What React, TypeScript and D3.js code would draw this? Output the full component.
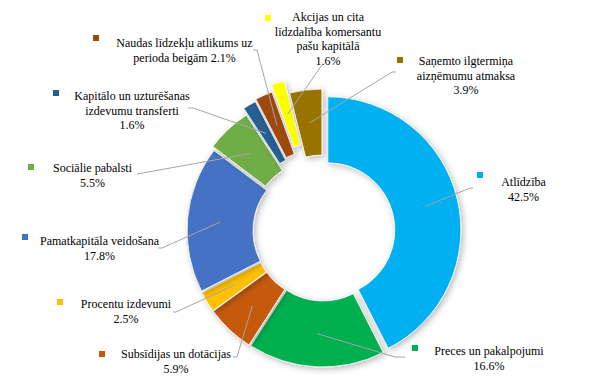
import React from "react";
import * as d3 from "d3";

const categories = [
  "Atlīdzība",
  "Preces un pakalpojumi",
  "Subsīdijas un dotācijas",
  "Procentu izdevumi",
  "Pamatkapitāla veidošana",
  "Sociālie pabalsti",
  "Kapitālo un uzturēšanas izdevumu transferti",
  "Naudas līdzekļu atlikums uz perioda beigām",
  "Akcijas un cita līdzdalība komersantu pašu kapitālā",
  "Saņemto ilgtermiņa aizņēmumu atmaksa",
];
const values = [42.5, 16.6, 5.9, 2.5, 17.8, 5.5, 1.6, 2.1, 1.6, 3.9];
const labelLines = [
  ["Atlīdzība", "42.5%"],
  ["Preces un pakalpojumi", "16.6%"],
  ["Subsīdijas un dotācijas", "5.9%"],
  ["Procentu izdevumi", "2.5%"],
  ["Pamatkapitāla veidošana", "17.8%"],
  ["Sociālie pabalsti", "5.5%"],
  ["Kapitālo un uzturēšanas", "izdevumu transferti", "1.6%"],
  ["Naudas līdzekļu atlikums uz", "perioda beigām 2.1%"],
  ["Akcijas un cita", "līdzdalība komersantu", "pašu kapitālā", "1.6%"],
  ["Saņemto ilgtermiņa", "aizņēmumu atmaksa", "3.9%"],
];
const colors = [
  "#00b0f0",
  "#00b050",
  "#c55a11",
  "#ffc000",
  "#4472c4",
  "#70ad47",
  "#255e91",
  "#9e480e",
  "#ffff00",
  "#997300",
];

// layout (not data)
const W = 605, H = 377;
const CX = 323, CY = 231, R = 133, R0 = 67;
const explode = [5, 3, 3, 3, 3, 6, 13, 15, 22, 9];
const labelPos: [number, number][] = [
  [523.5, 186], [489, 355], [176, 358], [126, 308], [99.5, 245],
  [92.5, 172], [132, 100], [184.5, 47], [328, 21], [466, 65],
];
const markerPos: [number, number][] = [
  [477, 172], [412, 345], [99, 351], [57, 299], [22, 234],
  [28, 164], [53, 90], [93, 35], [265, 15], [397, 57],
];
const leaderEnds: [number, number][][] = [
  [[470, 188], [473, 188]],
  [[395, 357], [405, 357]],
  [[237, 357], [233, 357]],
  [[176, 312], [173, 312]],
  [[162, 248], [158, 248]],
  [[137, 174]],
  [[193, 108], [188, 108]],
  [[257, 50], [253, 50]],
  [[322, 65]],
  [[392, 72], [396, 72]],
];

const FONT = '"Liberation Serif", "Times New Roman", "DejaVu Serif", serif';

export default function App() {
  const pie = d3.pie<number>().sort(null).value((d) => d);
  const arcs = pie(values);
  const arc = d3.arc<d3.PieArcDatum<number>>().innerRadius(R0).outerRadius(R);
  const line = d3.line();
  const LH = 14.5;
  return (
    <svg
      width={W}
      height={H}
      style={{ position: "fixed", left: 0, top: 0, background: "#fff", fontFamily: FONT, fontSize: "12px" }}
    >
      <defs>
        <filter id="sh" x="-20%" y="-20%" width="140%" height="140%">
          <feDropShadow dx="2" dy="2" stdDeviation="3" floodColor="#000" floodOpacity="0.28" />
        </filter>
      </defs>
      <g transform={`translate(${CX},${CY})`}>
        {arcs.map((a, i) => {
          const mid = (a.startAngle + a.endAngle) / 2;
          const dx = Math.sin(mid) * explode[i];
          const dy = -Math.cos(mid) * explode[i];
          return (
            <path
              key={categories[i]}
              d={arc(a) || ""}
              transform={`translate(${dx},${dy})`}
              fill={colors[i]}
              stroke="#fff"
              strokeWidth={0.8}
              filter="url(#sh)"
            />
          );
        })}
      </g>
      {arcs.map((a, i) => {
        const mid = (a.startAngle + a.endAngle) / 2;
        const rr = 100 + explode[i];
        const sx = CX + Math.sin(mid) * rr;
        const sy = CY - Math.cos(mid) * rr;
        const pts: [number, number][] = [[sx, sy], ...leaderEnds[i]];
        return (
          <path key={"l" + i} d={line(pts) || ""} fill="none" stroke="#a6a6a6" strokeWidth={1} />
        );
      })}
      {arcs.map((a, i) => (
        <g key={"t" + i}>
          <rect x={markerPos[i][0]} y={markerPos[i][1]} width={6} height={6} fill={colors[i]} />
          <text textAnchor="middle" fill="#000" style={{ fontFamily: FONT, fontSize: "12px" }}>
            {labelLines[i].map((s, j) => (
              <tspan key={j} x={labelPos[i][0]} y={labelPos[i][1] + j * LH}>
                {s}
              </tspan>
            ))}
          </text>
        </g>
      ))}
    </svg>
  );
}
